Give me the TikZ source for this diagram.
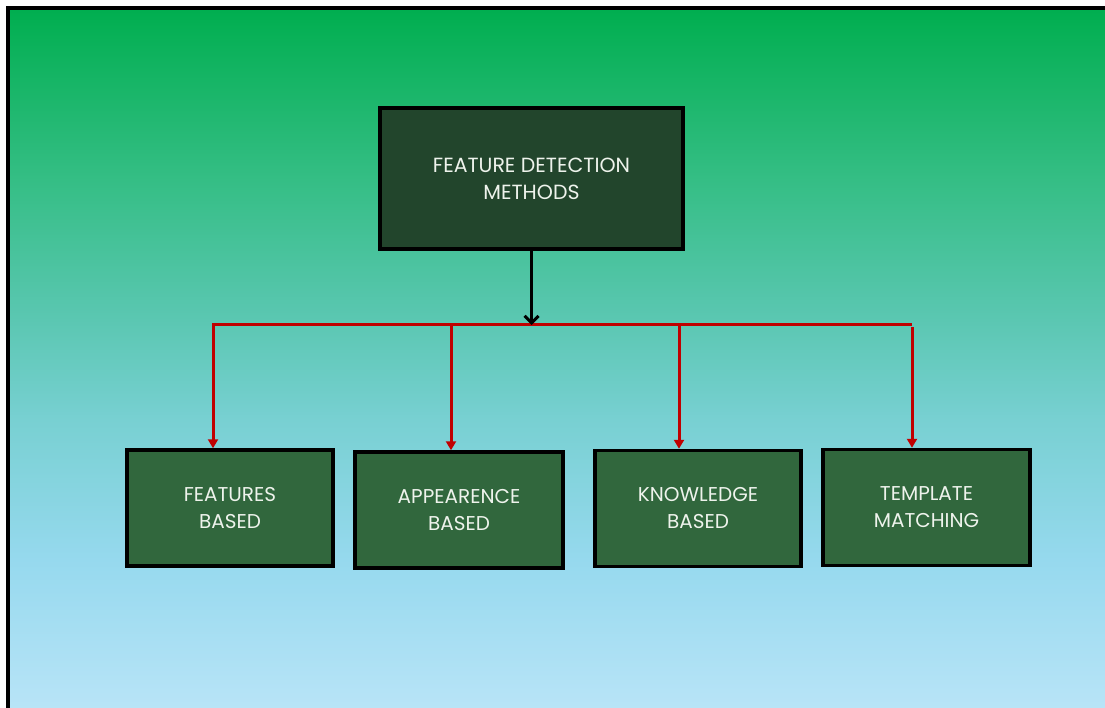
\documentclass[tikz,border=0pt]{standalone}
\usepackage{fontspec}
\setmainfont{Poppins}
\usetikzlibrary{arrows.meta}
\definecolor{topfill}{HTML}{22452C}
\definecolor{boxfill}{HTML}{31673D}
\definecolor{txt}{HTML}{EEF3EC}
\definecolor{redline}{HTML}{C00000}
\definecolor{g0}{HTML}{B8E4F7}
\definecolor{g1}{HTML}{96D9EE}
\definecolor{g2}{HTML}{78D0D2}
\definecolor{g3}{HTML}{5BC7B2}
\definecolor{g4}{HTML}{35BE85}
\definecolor{g5}{HTML}{00AE4F}
\pgfdeclareverticalshading{bgshade}{100bp}{color(0bp)=(g0); color(25bp)=(g0); color(35.6bp)=(g1); color(45.6bp)=(g2); color(52.7bp)=(g3); color(62.7bp)=(g4); color(75bp)=(g5); color(100bp)=(g5)}
\tikzset{
  topbox/.style={draw=black, line width=4pt, fill=topfill, text=txt, align=center,
    minimum width=303pt, minimum height=141pt, font=\fontsize{20.5}{27}\selectfont},
  subbox/.style={draw=black, line width=3.5pt, fill=boxfill, text=txt, align=center,
    minimum height=116pt, font=\fontsize{20}{27}\selectfont},
  redarrow/.style={draw=redline, line width=3pt, -{Triangle[width=10pt,length=9pt]}},
  blackarrow/.style={draw=black, line width=3pt, -{Straight Barb[length=7pt,width=14pt,line width=3pt]}},
}
\begin{document}
\begin{tikzpicture}[x=1pt,y=-1pt]
\useasboundingbox (0,0) rectangle (1105,708);
\shade[shading=bgshade] (8,8) rectangle (1105,708);
\draw[line width=4pt] (8,710) -- (8,8) -- (1107,8);

\node[topbox] (top) at (531.5,178.5) {FEATURE DETECTION\\METHODS};
\node[subbox, minimum width=206pt] (f) at (230,508) {FEATURES\\BASED};
\node[subbox, minimum width=208pt] (a) at (459,510) {APPEARENCE\\BASED};
\node[subbox, minimum width=206pt] (k) at (698,508.5) {KNOWLEDGE\\BASED};
\node[subbox, minimum width=207pt] (t) at (926.5,507.5) {TEMPLATE\\MATCHING};

\coordinate (c1) at (213,325);
\coordinate (c2) at (451,325);
\coordinate (c3) at (679,325);
\coordinate (c4) at (912,325);
\coordinate (cm) at (top.south |- c1);

\draw[redarrow] (c4) -- (c1) -- (c1 |- f.north);
\draw[redarrow] (c2) -- (c2 |- a.north);
\draw[redarrow] (c3) -- (c3 |- k.north);
\draw[redarrow] ([yshift=-2pt]c4) -- (c4 |- t.north);
\draw[blackarrow] (top.south) -- (cm);
\end{tikzpicture}
\end{document}
